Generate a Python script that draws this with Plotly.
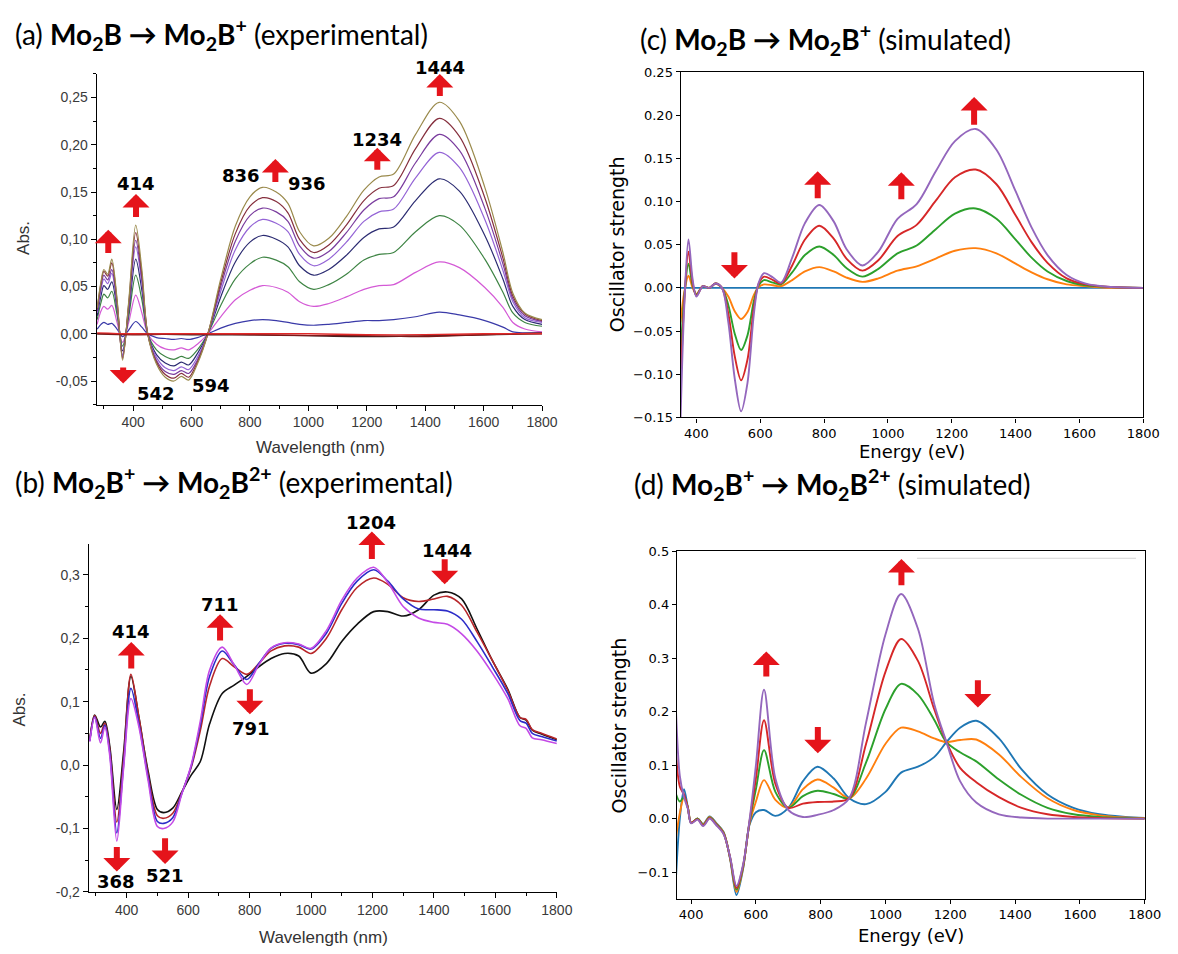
import plotly.graph_objects as go

W, H = 1178, 954

# ---------------- panel (a): Mo2B -> Mo2B+ (experimental) ----------------
WL_A = [277, 290, 300, 313, 327, 345, 364, 385, 409, 430, 450, 480, 510, 540, 565,
        590, 620, 656, 700, 750, 800, 843, 890, 930, 970, 1018, 1070, 1130, 1190, 1242,
        1292, 1367, 1448, 1517, 1604, 1666, 1700, 1741, 1800]
ABS_A_OLIVE = [0.027, 0.055, 0.068, 0.063, 0.079, 0.037, -0.028, 0.034, 0.115, 0.068,
               0.000, -0.032, -0.046, -0.050, -0.045, -0.049, -0.032, 0.000, 0.058, 0.114,
               0.145, 0.155, 0.150, 0.138, 0.108, 0.093, 0.101, 0.124, 0.152, 0.166,
               0.169, 0.211, 0.245, 0.225, 0.155, 0.086, 0.043, 0.022, 0.015]
ABS_A_MAROON = [0.026, 0.053, 0.066, 0.061, 0.075, 0.035, -0.026, 0.032, 0.107, 0.063,
                0.000, -0.030, -0.043, -0.047, -0.042, -0.046, -0.030, 0.000, 0.054, 0.106,
                0.135, 0.144, 0.140, 0.128, 0.100, 0.086, 0.094, 0.115, 0.141, 0.154,
                0.157, 0.196, 0.228, 0.209, 0.144, 0.080, 0.040, 0.021, 0.014]
ABS_A_PURPLE = [0.024, 0.050, 0.062, 0.057, 0.068, 0.032, -0.024, 0.029, 0.099, 0.058,
                0.000, -0.028, -0.040, -0.043, -0.039, -0.042, -0.028, 0.000, 0.050, 0.098,
                0.125, 0.133, 0.129, 0.119, 0.093, 0.080, 0.087, 0.107, 0.131, 0.143,
                0.145, 0.181, 0.211, 0.194, 0.133, 0.074, 0.037, 0.019, 0.013]
ABS_A_VIOLET = [0.022, 0.046, 0.058, 0.053, 0.064, 0.030, -0.022, 0.027, 0.092, 0.054,
                0.000, -0.025, -0.036, -0.039, -0.035, -0.038, -0.025, 0.000, 0.045, 0.089,
                0.113, 0.121, 0.117, 0.108, 0.084, 0.072, 0.079, 0.097, 0.119, 0.129,
                0.132, 0.165, 0.192, 0.176, 0.121, 0.067, 0.034, 0.017, 0.012]
ABS_A_NAVY = [0.019, 0.040, 0.051, 0.047, 0.055, 0.026, -0.018, 0.023, 0.079, 0.046,
              0.000, -0.022, -0.031, -0.034, -0.030, -0.033, -0.021, 0.000, 0.039, 0.076,
              0.097, 0.104, 0.100, 0.092, 0.072, 0.062, 0.068, 0.083, 0.102, 0.111,
              0.113, 0.141, 0.164, 0.151, 0.104, 0.058, 0.029, 0.015, 0.010]
ABS_A_GREEN = [0.015, 0.033, 0.042, 0.038, 0.045, 0.020, -0.013, 0.018, 0.062, 0.036,
               0.000, -0.017, -0.024, -0.027, -0.024, -0.026, -0.017, 0.000, 0.030, 0.058,
               0.074, 0.081, 0.078, 0.071, 0.055, 0.047, 0.052, 0.063, 0.078, 0.084,
               0.086, 0.108, 0.125, 0.115, 0.079, 0.044, 0.022, 0.012, 0.008]
ABS_A_MAGENTA = [0.010, 0.024, 0.029, 0.026, 0.030, 0.012, -0.009, 0.012, 0.041, 0.022,
                 0.000, -0.011, -0.016, -0.017, -0.015, -0.017, -0.011, 0.000, 0.018, 0.036,
                 0.046, 0.051, 0.049, 0.044, 0.034, 0.029, 0.032, 0.039, 0.047, 0.051,
                 0.052, 0.065, 0.076, 0.070, 0.049, 0.028, 0.012, 0.005, 0.002]
ABS_A_BLUE = [0.005, 0.010, 0.012, 0.010, 0.011, 0.005, -0.003, 0.004, 0.013, 0.007,
              0.000, -0.004, -0.005, -0.006, -0.005, -0.006, -0.004, 0.000, 0.006, 0.011,
              0.014, 0.015, 0.014, 0.012, 0.010, 0.009, 0.010, 0.012, 0.014, 0.014,
              0.015, 0.018, 0.023, 0.020, 0.014, 0.007, 0.002, 0.001, 0.001]
WL_A_FLAT = [277, 400, 600, 800, 1000, 1200, 1400, 1600, 1800]
ABS_A_DARKRED = [0.000, -0.001, 0.000, -0.001, -0.002, -0.002, -0.003, -0.001, 0.001]
ABS_A_BLACK = [0.000, 0.000, -0.001, -0.001, -0.002, -0.003, -0.002, -0.001, 0.000]
ABS_A_RED = [0.001, 0.000, 0.000, 0.000, 0.000, -0.001, -0.001, 0.000, 0.000]

# ---------------- panel (b): Mo2B+ -> Mo2B2+ (experimental) ----------------
WL_B = [280, 296, 315, 329, 345, 368, 390, 414, 440, 470, 500, 521, 550, 580, 610,
        640, 670, 711, 750, 791, 830, 870, 914, 960, 1000, 1050, 1100, 1150, 1204, 1250,
        1300, 1350, 1400, 1444, 1490, 1540, 1590, 1640, 1680, 1700, 1720, 1750, 1800]
ABS_B_BLACK = [0.039, 0.079, 0.060, 0.069, 0.030, -0.070, 0.020, 0.140, 0.075, -0.010,
               -0.070, -0.075, -0.068, -0.042, -0.016, 0.006, 0.065, 0.113, 0.126, 0.140,
               0.155, 0.168, 0.176, 0.172, 0.145, 0.160, 0.195, 0.222, 0.242, 0.242,
               0.235, 0.245, 0.268, 0.273, 0.262, 0.215, 0.165, 0.120, 0.075, 0.071,
               0.055, 0.049, 0.040]
ABS_B_RED = [0.040, 0.078, 0.050, 0.066, 0.025, -0.090, 0.010, 0.143, 0.075, -0.015,
             -0.080, -0.084, -0.076, -0.043, -0.004, 0.055, 0.125, 0.168, 0.155, 0.143,
             0.160, 0.180, 0.188, 0.186, 0.176, 0.200, 0.245, 0.280, 0.295, 0.285,
             0.264, 0.258, 0.262, 0.266, 0.252, 0.210, 0.165, 0.118, 0.075, 0.072,
             0.056, 0.050, 0.041]
ABS_B_BLUE = [0.038, 0.076, 0.042, 0.063, 0.020, -0.107, 0.000, 0.121, 0.065, -0.020,
              -0.089, -0.092, -0.083, -0.044, -0.002, 0.064, 0.140, 0.180, 0.158, 0.135,
              0.160, 0.184, 0.192, 0.190, 0.183, 0.208, 0.255, 0.290, 0.308, 0.290,
              0.262, 0.246, 0.245, 0.243, 0.230, 0.195, 0.155, 0.113, 0.070, 0.066,
              0.050, 0.045, 0.038]
ABS_B_MAGENTA = [0.037, 0.075, 0.035, 0.060, 0.015, -0.120, -0.005, 0.105, 0.060, -0.025,
                 -0.097, -0.100, -0.090, -0.045, 0.000, 0.070, 0.150, 0.186, 0.158, 0.127,
                 0.158, 0.185, 0.193, 0.191, 0.184, 0.212, 0.260, 0.295, 0.312, 0.288,
                 0.250, 0.232, 0.225, 0.222, 0.207, 0.180, 0.145, 0.105, 0.062, 0.058,
                 0.043, 0.040, 0.034]

# ---------------- panel (c): Mo2B -> Mo2B+ (simulated) ----------------
E_C = [350, 362, 375, 388, 400, 420, 440, 460, 480, 500, 520, 540, 560, 580, 595,
       612, 640, 665, 700, 740, 785, 830, 870, 920, 970, 1030, 1090, 1150, 1210, 1275,
       1340, 1400, 1450, 1500, 1560, 1620, 1700, 1800]
E_C_ZERO = [350, 1800]
OSC_C_BLUE = [0.0, 0.0]
OSC_C_ORANGE = [-0.040, -0.005, 0.014, 0.000, -0.007, 0.002, 0.000, 0.005, 0.000, -0.010,
                -0.027, -0.036, -0.028, -0.008, 0.001, 0.004, 0.003, 0.002, 0.009, 0.019,
                0.024, 0.019, 0.012, 0.007, 0.011, 0.020, 0.025, 0.034, 0.043, 0.046,
                0.040, 0.028, 0.018, 0.010, 0.004, 0.002, 0.000, 0.000]
OSC_C_GREEN = [-0.080, -0.010, 0.028, 0.003, -0.008, 0.002, 0.000, 0.005, 0.000, -0.020,
               -0.053, -0.072, -0.055, -0.015, 0.003, 0.009, 0.006, 0.004, 0.018, 0.038,
               0.048, 0.038, 0.023, 0.013, 0.022, 0.040, 0.049, 0.068, 0.086, 0.092,
               0.080, 0.056, 0.035, 0.019, 0.008, 0.003, 0.001, 0.000]
OSC_C_RED = [-0.115, -0.015, 0.042, 0.006, -0.009, 0.002, 0.000, 0.005, 0.000, -0.030,
             -0.079, -0.107, -0.083, -0.023, 0.005, 0.013, 0.009, 0.005, 0.026, 0.056,
             0.072, 0.057, 0.034, 0.020, 0.032, 0.060, 0.073, 0.101, 0.128, 0.137,
             0.120, 0.084, 0.053, 0.029, 0.011, 0.004, 0.001, 0.000]
OSC_C_PURPLE = [-0.155, -0.020, 0.056, 0.010, -0.010, 0.002, 0.000, 0.005, 0.000, -0.040,
                -0.105, -0.143, -0.110, -0.030, 0.006, 0.017, 0.012, 0.006, 0.035, 0.075,
                0.096, 0.077, 0.045, 0.026, 0.042, 0.080, 0.097, 0.135, 0.170, 0.184,
                0.160, 0.112, 0.070, 0.038, 0.015, 0.005, 0.001, 0.000]

# ---------------- panel (d): Mo2B+ -> Mo2B2+ (simulated) ----------------
E_D = [350, 365, 378, 390, 400, 420, 437, 457, 477, 500, 520, 540, 560, 580, 600,
       625, 660, 700, 745, 790, 840, 888, 940, 1000, 1048, 1100, 1150, 1188, 1230, 1280,
       1350, 1420, 1500, 1580, 1660, 1740, 1800]
OSC_D_BLUE = [-0.148, 0.000, 0.055, 0.020, -0.008, 0.000, -0.010, 0.004, -0.008, -0.025,
              -0.075, -0.143, -0.095, -0.012, 0.012, 0.016, 0.005, 0.020, 0.070, 0.097,
              0.075, 0.038, 0.027, 0.050, 0.086, 0.097, 0.115, 0.143, 0.170, 0.183,
              0.150, 0.092, 0.045, 0.020, 0.008, 0.003, 0.001]
OSC_D_ORANGE = [-0.050, 0.010, 0.040, 0.020, -0.008, 0.000, -0.011, 0.003, -0.009, -0.026,
                -0.074, -0.137, -0.093, -0.010, 0.032, 0.072, 0.035, 0.020, 0.055, 0.073,
                0.058, 0.038, 0.075, 0.140, 0.170, 0.163, 0.150, 0.143, 0.147, 0.148,
                0.120, 0.077, 0.038, 0.016, 0.006, 0.002, 0.001]
OSC_D_GREEN = [0.052, 0.032, 0.040, 0.020, -0.008, 0.000, -0.012, 0.002, -0.010, -0.027,
               -0.073, -0.133, -0.091, -0.008, 0.055, 0.128, 0.050, 0.020, 0.042, 0.052,
               0.046, 0.038, 0.105, 0.205, 0.252, 0.232, 0.185, 0.143, 0.124, 0.107,
               0.073, 0.044, 0.020, 0.008, 0.003, 0.001, 0.000]
OSC_D_RED = [0.153, 0.060, 0.045, 0.020, -0.008, -0.001, -0.013, 0.001, -0.011, -0.028,
             -0.072, -0.130, -0.089, -0.006, 0.075, 0.184, 0.065, 0.020, 0.028, 0.031,
             0.032, 0.038, 0.140, 0.275, 0.336, 0.295, 0.205, 0.143, 0.095, 0.068,
             0.040, 0.020, 0.008, 0.003, 0.001, 0.000, 0.000]
OSC_D_PURPLE = [0.253, 0.080, 0.040, 0.018, -0.009, -0.002, -0.014, 0.000, -0.012, -0.029,
                -0.071, -0.126, -0.087, -0.004, 0.100, 0.241, 0.075, 0.016, 0.003, 0.007,
                0.016, 0.038, 0.180, 0.345, 0.420, 0.355, 0.215, 0.143, 0.070, 0.030,
                0.008, 0.002, 0.000, 0.000, 0.000, 0.000, 0.000]

# tick labels
X_TICKS = [400, 600, 800, 1000, 1200, 1400, 1600, 1800]
YA_TICKS = [-0.05, 0.0, 0.05, 0.10, 0.15, 0.20, 0.25]
YA_LABELS = ["-0,05", "0,00", "0,05", "0,10", "0,15", "0,20", "0,25"]
YB_TICKS = [-0.2, -0.1, 0.0, 0.1, 0.2, 0.3]
YB_LABELS = ["-0,2", "-0,1", "0,0", "0,1", "0,2", "0,3"]

ARROW_RED = "#e5141b"
SANS = "Liberation Sans, Arial, sans-serif"
MPL = "DejaVu Sans, sans-serif"
TITLE_FONT = "Lato, Open Sans, sans-serif"


def px_x(p):
    return p / W


def px_y(p):
    return 1 - p / H


def add_lines(fig, axis, x, series, width):
    for y, color in series:
        fig.add_trace(go.Scatter(
            x=x, y=y, mode="lines", xaxis="x" + axis, yaxis="y" + axis,
            line=dict(color=color, width=width, shape="spline", smoothing=0.9),
            showlegend=False, hoverinfo="skip",
        ))


fig = go.Figure()

add_lines(fig, "", WL_A, [
    (ABS_A_BLUE, "#3a3aa8"), (ABS_A_MAGENTA, "#d45ad6"), (ABS_A_GREEN, "#3e8444"),
    (ABS_A_NAVY, "#2c2c72"), (ABS_A_VIOLET, "#9464d6"), (ABS_A_PURPLE, "#7a3c9e"),
    (ABS_A_MAROON, "#86303e"), (ABS_A_OLIVE, "#9a8a4c"),
], 1.2)
add_lines(fig, "", WL_A_FLAT, [
    (ABS_A_BLACK, "#3a2020"), (ABS_A_DARKRED, "#7a1a1a"), (ABS_A_RED, "#e02828"),
], 1.4)

add_lines(fig, "2", WL_B, [
    (ABS_B_BLACK, "#111111"), (ABS_B_RED, "#b8262a"),
    (ABS_B_BLUE, "#2c2cc8"), (ABS_B_MAGENTA, "#c44ae6"),
], 1.6)

add_lines(fig, "3", E_C_ZERO, [(OSC_C_BLUE, "#1f77b4")], 1.9)
add_lines(fig, "3", E_C, [
    (OSC_C_ORANGE, "#ff7f0e"), (OSC_C_GREEN, "#2ca02c"),
    (OSC_C_RED, "#d62728"), (OSC_C_PURPLE, "#9467bd"),
], 1.9)

add_lines(fig, "4", E_D, [
    (OSC_D_BLUE, "#1f77b4"), (OSC_D_ORANGE, "#ff7f0e"), (OSC_D_GREEN, "#2ca02c"),
    (OSC_D_RED, "#d62728"), (OSC_D_PURPLE, "#9467bd"),
], 1.9)

exp_x = dict(showline=True, linecolor="black", linewidth=1, ticks="outside", ticklen=5,
             tickcolor="black", showgrid=False, zeroline=False, tickvals=X_TICKS,
             tickfont=dict(family=SANS, size=14, color="#3a3a3a"),
             minor=dict(ticks="outside", ticklen=3, tickcolor="black", tick0=0, dtick=100))
exp_y = dict(showline=True, linecolor="black", linewidth=1, ticks="outside", ticklen=5,
             tickcolor="black", showgrid=False, zeroline=False,
             tickfont=dict(family=SANS, size=14, color="#3a3a3a"))
sim_x = dict(showline=True, linecolor="black", linewidth=1.2, mirror=True, ticks="outside",
             ticklen=4, tickcolor="black", showgrid=False, zeroline=False, tickvals=X_TICKS,
             tickfont=dict(family=MPL, size=13, color="black"))
sim_y = dict(showline=True, linecolor="black", linewidth=1.2, mirror=True, ticks="outside",
             ticklen=4, tickcolor="black", showgrid=False, zeroline=False,
             tickfont=dict(family=MPL, size=13, color="black"))

fig.update_layout(
    width=W, height=H, margin=dict(l=0, r=0, t=0, b=0),
    paper_bgcolor="white", plot_bgcolor="white", showlegend=False,
    xaxis=dict(domain=[px_x(98), px_x(550)], range=[275, 1800], anchor="y", **exp_x),
    yaxis=dict(domain=[px_y(404), px_y(68)], range=[-0.075, 0.275], anchor="x",
               tickvals=YA_TICKS, ticktext=YA_LABELS,
               minor=dict(ticks="outside", ticklen=3, tickcolor="black", tick0=0, dtick=0.025),
               **exp_y),
    xaxis2=dict(domain=[px_x(90), px_x(565)], range=[276.5, 1800], anchor="y2", **exp_x),
    yaxis2=dict(domain=[px_y(899), px_y(546)], range=[-0.2, 0.348], anchor="x2",
                tickvals=YB_TICKS, ticktext=YB_LABELS,
                minor=dict(ticks="outside", ticklen=3, tickcolor="black", tick0=0, dtick=0.05),
                **exp_y),
    xaxis3=dict(domain=[px_x(690.6), px_x(1160)], range=[350.5, 1800], anchor="y3", **sim_x),
    yaxis3=dict(domain=[px_y(417), px_y(66)], range=[-0.15, 0.25], anchor="x3",
                dtick=0.05, tick0=0, tickformat=".2f", **sim_y),
    xaxis4=dict(domain=[px_x(686.8), px_x(1161.5)], range=[356, 1800], anchor="y4", **sim_x),
    yaxis4=dict(domain=[px_y(906), px_y(553)], range=[-0.15, 0.5], anchor="x4",
                dtick=0.1, tick0=0, tickformat=".1f", **sim_y),
)

# faint line near the top of panel (d)
fig.add_shape(type="line", xref="x4", yref="y4", x0=1097, x1=1773, y0=0.487, y1=0.487,
              line=dict(color="#d4d4d4", width=1))

# panel titles
TITLES = [
    ("(a) <b>Mo<sub>2</sub>B → Mo<sub>2</sub>B<sup>+</sup></b> (experimental)", 13, 28),
    ("(b) <b>Mo<sub>2</sub>B<sup>+</sup> → Mo<sub>2</sub>B<sup>2+</sup></b> (experimental)", 13, 483),
    ("(c) <b>Mo<sub>2</sub>B → Mo<sub>2</sub>B<sup>+</sup></b> (simulated)", 647, 33),
    ("(d) <b>Mo<sub>2</sub>B<sup>+</sup> → Mo<sub>2</sub>B<sup>2+</sup></b> (simulated)", 641, 485),
]
for text, x, y in TITLES:
    fig.add_annotation(text=text, x=px_x(x), y=px_y(y), xref="paper", yref="paper",
                       xanchor="left", yanchor="middle", showarrow=False,
                       font=dict(family=TITLE_FONT, size=28, color="black"))

# axis titles
AXIS_TITLES = [
    ("Wavelength (nm)", 325, 448, 0, SANS, 17, "#333333"),
    ("Abs.", 24, 235, -90, SANS, 17, "#333333"),
    ("Wavelength (nm)", 328, 945, 0, SANS, 17, "#333333"),
    ("Abs.", 20, 714, -90, SANS, 17, "#333333"),
    ("Energy (eV)", 925, 452, 0, MPL, 18, "black"),
    ("Oscillator strength", 626, 241, -90, MPL, 19, "black"),
    ("Energy (eV)", 924, 943, 0, MPL, 18, "black"),
    ("Oscillator strength", 628, 730, -90, MPL, 19, "black"),
]
for text, x, y, ang, fam, size, color in AXIS_TITLES:
    fig.add_annotation(text=text, x=px_x(x), y=px_y(y), xref="paper", yref="paper",
                       xanchor="center", yanchor="middle", textangle=ang, showarrow=False,
                       font=dict(family=fam, size=size, color=color))

# red arrows: (axis, x, y_tail, y_head)
ARROWS = [
    ("", 315, 0.084, 0.110), ("", 410, 0.122, 0.148), ("", 887, 0.159, 0.185),
    ("", 1236, 0.172, 0.197), ("", 1450, 0.250, 0.275), ("", 366, -0.034, -0.0525),
    ("2", 415, 0.150, 0.194), ("2", 704, 0.194, 0.238),
    ("2", 1435, 0.327, 0.285), ("2", 801, 0.122, 0.080), ("2", 368, -0.127, -0.168),
    ("2", 525, -0.113, -0.156),
    ("3", 519, 0.043, 0.011), ("3", 780, 0.102, 0.135), ("3", 1042, 0.101, 0.134),
    ("3", 1270, 0.187, 0.221),
    ("4", 632, 0.263, 0.3125), ("4", 1049, 0.4335, 0.4856), ("4", 1285, 0.2615, 0.208),
    ("4", 791, 0.174, 0.122),
]
for ax, x, yt, yh in ARROWS:
    fig.add_annotation(x=x, y=yh, ax=x, ay=yt, xref="x" + ax, yref="y" + ax,
                       axref="x" + ax, ayref="y" + ax, text="", showarrow=True,
                       arrowhead=1, arrowsize=0.75, arrowwidth=6, arrowcolor=ARROW_RED)

# the 1204 arrow in (b) pokes above the axes: x on the axis, y on the page
fig.add_annotation(x=1198, y=px_y(533), xref="x2", yref="paper", ax=0, ay=29,
                   text="", showarrow=True, arrowhead=1, arrowsize=0.75, arrowwidth=6,
                   arrowcolor=ARROW_RED)

# peak labels inside the axes: (axis, text, x, y)
PEAK_LABELS = [
    ("", "414", 410, 0.159), ("", "836", 771, 0.168), ("", "936", 995, 0.159),
    ("", "1234", 1236, 0.2055), ("", "542", 479, -0.063), ("", "594", 666, -0.055),
    ("2", "414", 415, 0.211), ("2", "711", 704, 0.254),
    ("2", "1444", 1441, 0.339), ("2", "791", 806, 0.057), ("2", "368", 366, -0.184),
    ("2", "521", 525, -0.174),
]
for ax, text, x, y in PEAK_LABELS:
    fig.add_annotation(x=x, y=y, xref="x" + ax, yref="y" + ax, text="<b>" + text + "</b>",
                       showarrow=False, xanchor="center", yanchor="middle",
                       font=dict(family=MPL, size=18, color="black"))

# peak labels above the plot areas: (axis, text, x, page y)
TOP_LABELS = [("", "1444", 1450, 61), ("2", "1204", 1196, 524)]
for ax, text, x, y in TOP_LABELS:
    fig.add_annotation(x=x, y=px_y(y), xref="x" + ax, yref="paper",
                       text="<b>" + text + "</b>", showarrow=False,
                       xanchor="center", yanchor="middle",
                       font=dict(family=MPL, size=18, color="black"))

# pin the graph to the page corner so the 1178x954 window shows it unscaled
PIN_JS = ("document.body.style.margin='0';"
          "var d=document.getElementById('{plot_id}');"
          "d.style.position='absolute';d.style.left='0px';d.style.top='0px';")

fig.write_html("out.html", post_script=PIN_JS, config={"displayModeBar": False})
